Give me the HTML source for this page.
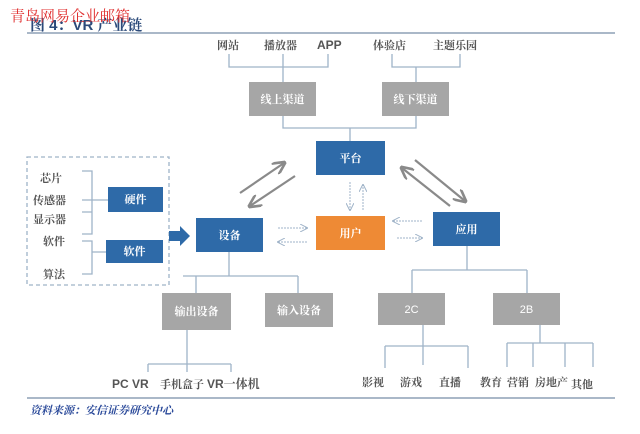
<!DOCTYPE html>
<html><head><meta charset="utf-8"><style>
body{margin:0;background:#fff}
svg{display:block}
text{font-family:"Liberation Sans","Noto Serif CJK SC","Noto Sans CJK SC",sans-serif}
</style></head><body>
<svg width="640" height="434" viewBox="0 0 640 434" xmlns="http://www.w3.org/2000/svg">
<defs>
<marker id="ag" markerWidth="6" markerHeight="6" refX="5" refY="3" orient="auto" markerUnits="strokeWidth"><path d="M0,0 L6,3 L0,6" fill="none" stroke="#8a8a8a" stroke-width="1.2"/></marker>
<marker id="al" markerWidth="8" markerHeight="8" refX="7" refY="4" orient="auto" markerUnits="userSpaceOnUse"><path d="M0,0 L8,4 L0,8" fill="none" stroke="#9fb3c8" stroke-width="1"/></marker>
</defs>
<text x="30" y="30" font-size="15" font-weight="bold" fill="#2b4a7a">图 4：VR 产业链</text>
<text x="10" y="21" font-size="15" fill="#e03030" font-family="'Noto Sans CJK SC',sans-serif">青岛网易企业邮箱</text>
<line x1="27" y1="33" x2="615" y2="33" stroke="#8ea0b5" stroke-width="1.5"/>
<g stroke="#9fb3c8" stroke-width="1.3" fill="none">
<path d="M229,54V67H328V54M283,54V82M283,116V128H416V116M350,128V141M416,116V82"/>
<path d="M392,54V67H460V54M416,67V82"/>
<rect x="27" y="157" width="142" height="128" stroke="#9fb3c8" stroke-dasharray="4,3"/>
<path d="M82,171H92V234H82M82,200H108M82,212H92"/>
<path d="M82,241H92V274H82M92,252H106"/>
<path d="M229,252V276M183,276H298M196,276V293M298,276V293"/>
<path d="M187,330V372M148,364H231M148,364V372M231,364V372"/>
<path d="M467,246V270M412,270H527M412,270V293M527,270V293"/>
<path d="M423,325V365M385,346H468M385,346V368M468,346V368"/>
<path d="M540,325V343M507,343H593M507,343V367M533,343V367M565,343V367M593,343V367"/>
</g>
<g font-size="11" font-weight="bold" fill="#fff" text-anchor="middle">
<rect x="249" y="82" width="67" height="34" fill="#a6a6a6"/><text x="282.5" y="103">线上渠道</text>
<rect x="382" y="82" width="67" height="34" fill="#a6a6a6"/><text x="415.5" y="103">线下渠道</text>
<rect x="316" y="141" width="69" height="34" fill="#2e6aa8"/><text x="350.5" y="162">平台</text>
<rect x="316" y="216" width="69" height="34" fill="#ee8a35"/><text x="350.5" y="237">用户</text>
<rect x="433" y="212" width="67" height="34" fill="#2e6aa8"/><text x="466.5" y="233">应用</text>
<rect x="196" y="218" width="67" height="34" fill="#2e6aa8"/><text x="229.5" y="239">设备</text>
<rect x="108" y="187" width="55" height="25" fill="#2e6aa8"/><text x="135.5" y="203">硬件</text>
<rect x="106" y="240" width="57" height="23" fill="#2e6aa8"/><text x="134.5" y="255">软件</text>
<rect x="162" y="293" width="69" height="37" fill="#a6a6a6"/><text x="196.5" y="315">输出设备</text>
<rect x="265" y="293" width="68" height="34" fill="#a6a6a6"/><text x="299" y="314">输入设备</text>
<rect x="378" y="293" width="67" height="32" fill="#a6a6a6"/><text x="411.5" y="313" font-weight="normal">2C</text>
<rect x="493" y="293" width="67" height="32" fill="#a6a6a6"/><text x="526.5" y="313" font-weight="normal">2B</text>
</g>
<path d="M169,231H180V226L190,236L180,246V241H169Z" fill="#2e6aa8"/>
<g stroke="#8a8a8a" stroke-width="2.2" fill="none">
<line x1="240" y1="193" x2="284" y2="163" marker-end="url(#ag)"/>
<line x1="295" y1="176" x2="250" y2="206" marker-end="url(#ag)"/>
<line x1="415" y1="160" x2="465" y2="201" marker-end="url(#ag)"/>
<line x1="450" y1="206" x2="402" y2="168" marker-end="url(#ag)"/>
</g>
<g stroke="#9fb3c8" stroke-width="1" stroke-dasharray="2,1" fill="none">
<line x1="350" y1="182" x2="350" y2="210" marker-end="url(#al)"/>
<line x1="363" y1="210" x2="363" y2="185" marker-end="url(#al)"/>
<line x1="422" y1="221" x2="393" y2="221" marker-end="url(#al)"/>
<line x1="397" y1="238" x2="422" y2="238" marker-end="url(#al)"/>
<line x1="278" y1="228" x2="307" y2="228" marker-end="url(#al)"/>
<line x1="307" y1="242" x2="278" y2="242" marker-end="url(#al)"/>
</g>
<g font-size="11" font-weight="bold" fill="#555">
<text x="217" y="49">网站</text>
<text x="264" y="49">播放器</text>
<text x="317" y="49" font-size="12">APP</text>
<text x="373" y="49">体验店</text>
<text x="433" y="49">主题乐园</text>
<text x="40" y="182">芯片</text>
<text x="33" y="204">传感器</text>
<text x="33" y="223">显示器</text>
<text x="43" y="245">软件</text>
<text x="43" y="278">算法</text>
<text x="112" y="388" font-size="12">PC VR</text>
<text x="160" y="388">手机盒子</text>
<text x="207" y="388" font-size="12">VR一体机</text>
<text x="362" y="386">影视</text>
<text x="400" y="386">游戏</text>
<text x="439" y="386">直播</text>
<text x="480" y="386">教育</text>
<text x="507" y="386">营销</text>
<text x="535" y="386">房地产</text>
<text x="571" y="388">其他</text>
</g>
<line x1="27" y1="398" x2="615" y2="398" stroke="#8ea0b5" stroke-width="1.5"/>
<text x="30" y="414" font-size="11" font-style="italic" font-weight="bold" fill="#2b4a9a">资料来源：安信证券研究中心</text>
</svg>
</body></html>
